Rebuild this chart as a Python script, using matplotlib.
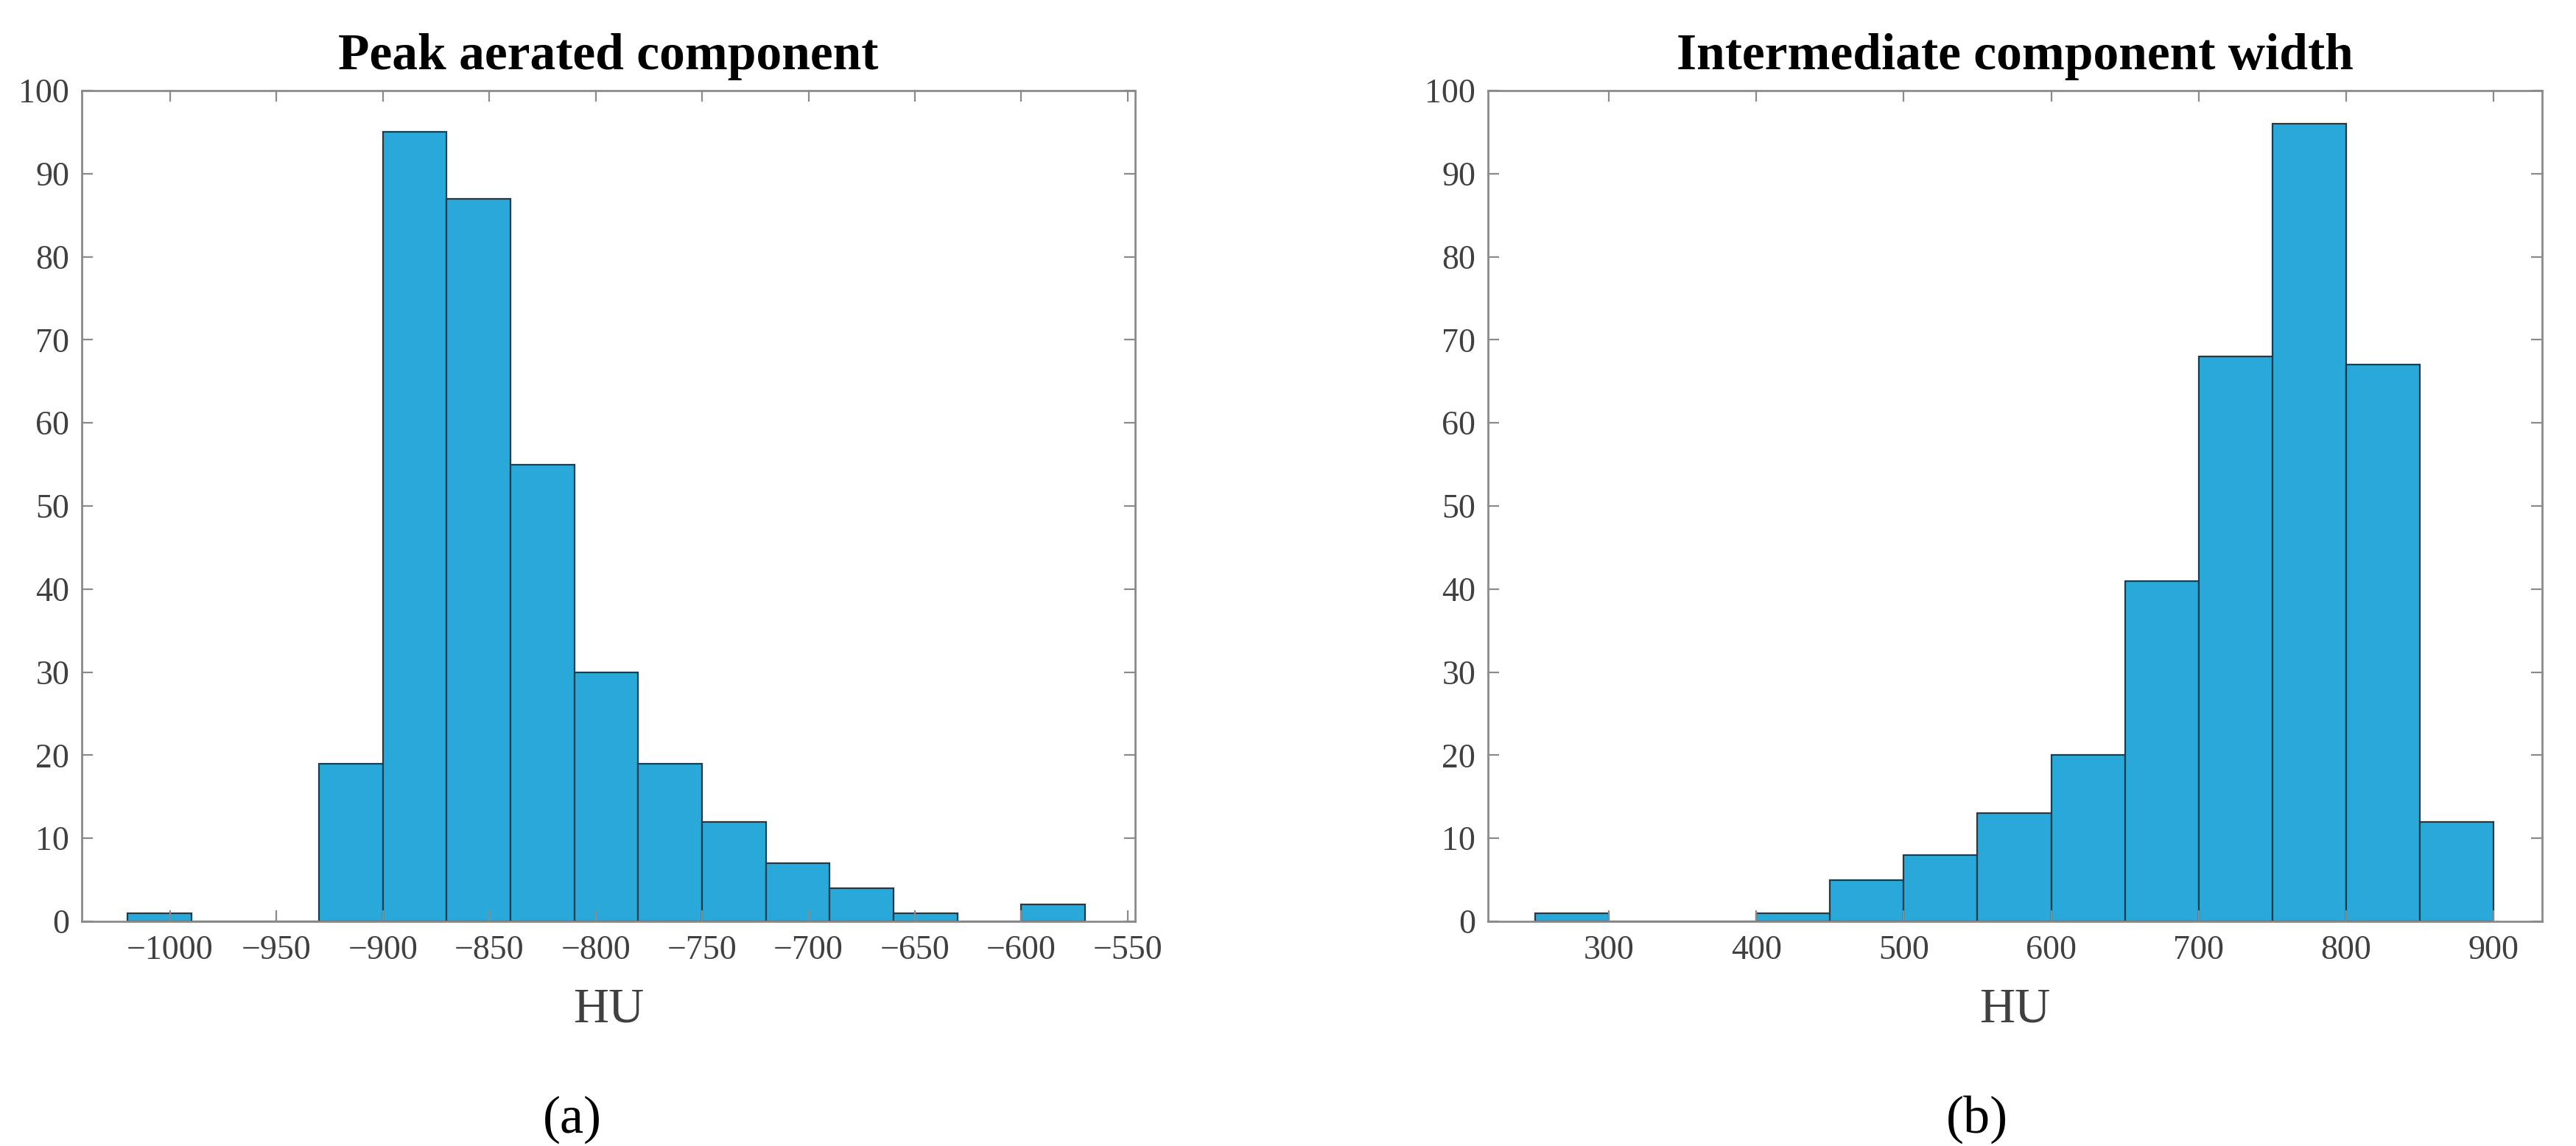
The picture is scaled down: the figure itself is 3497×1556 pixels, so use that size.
import numpy as np
import matplotlib
matplotlib.use('Agg')
import matplotlib.pyplot as plt

# histogram bins and counts
peak_edges = np.arange(-1020, -569, 30)
peak_counts = [1, 0, 0, 19, 95, 87, 55, 30, 19, 12, 7, 4, 1, 0, 2]

width_edges = np.arange(250, 901, 50)
width_counts = [1, 0, 0, 1, 5, 8, 13, 20, 41, 68, 96, 67, 12]

titles = ['Peak aerated component', 'Intermediate component width']
panel_labels = ['(a)', '(b)']
x_label = 'HU'

bar_color = '#29a9d9'
edge_color = '#1d3c4c'
axis_color = '#8a8a8a'
text_color = '#404040'

plt.rcParams['font.family'] = ['Liberation Serif', 'DejaVu Serif']

fig = plt.figure(figsize=(34.98, 15.56), dpi=100)
ax1 = fig.add_axes([0.03173, 0.19602, 0.40880, 0.72494])
ax2 = fig.add_axes([0.57747, 0.19602, 0.40909, 0.72494])

panels = [
    (ax1, peak_edges, peak_counts, (-1041.5, -546.5), np.arange(-1000, -549, 50)),
    (ax2, width_edges, width_counts, (218, 933), np.arange(300, 901, 100)),
]

for i, (ax, edges, counts, xlim, xticks) in enumerate(panels):
    ax.hist(edges[:-1], bins=edges, weights=counts, color=bar_color,
            edgecolor=edge_color, linewidth=1.6)
    ax.set_xlim(*xlim)
    ax.set_ylim(0, 100)
    ax.set_xticks(xticks)
    ax.set_yticks(np.arange(0, 101, 10))
    for s in ax.spines.values():
        s.set_color(axis_color)
        s.set_linewidth(2)
    ax.tick_params(direction='in', length=11, width=1.6, color=axis_color,
                   top=True, right=True, labelsize=33, labelcolor=text_color)
    ax.tick_params(axis='x', pad=13)
    ax.tick_params(axis='y', pad=12)
    ax.text(0.5, 1.041, titles[i], transform=ax.transAxes, ha='center',
            va='center', fontsize=50, fontweight='bold', color='black')
    ax.text(0.5, -0.106, x_label, transform=ax.transAxes, ha='center',
            va='center', fontsize=48, color=text_color)

fig.text(0.2221, 0.0231, panel_labels[0], ha='center', va='center',
         fontsize=52, color='black')
fig.text(0.7673, 0.0231, panel_labels[1], ha='center', va='center',
         fontsize=52, color='black')

fig.savefig('out.png', dpi=100, facecolor='white')
